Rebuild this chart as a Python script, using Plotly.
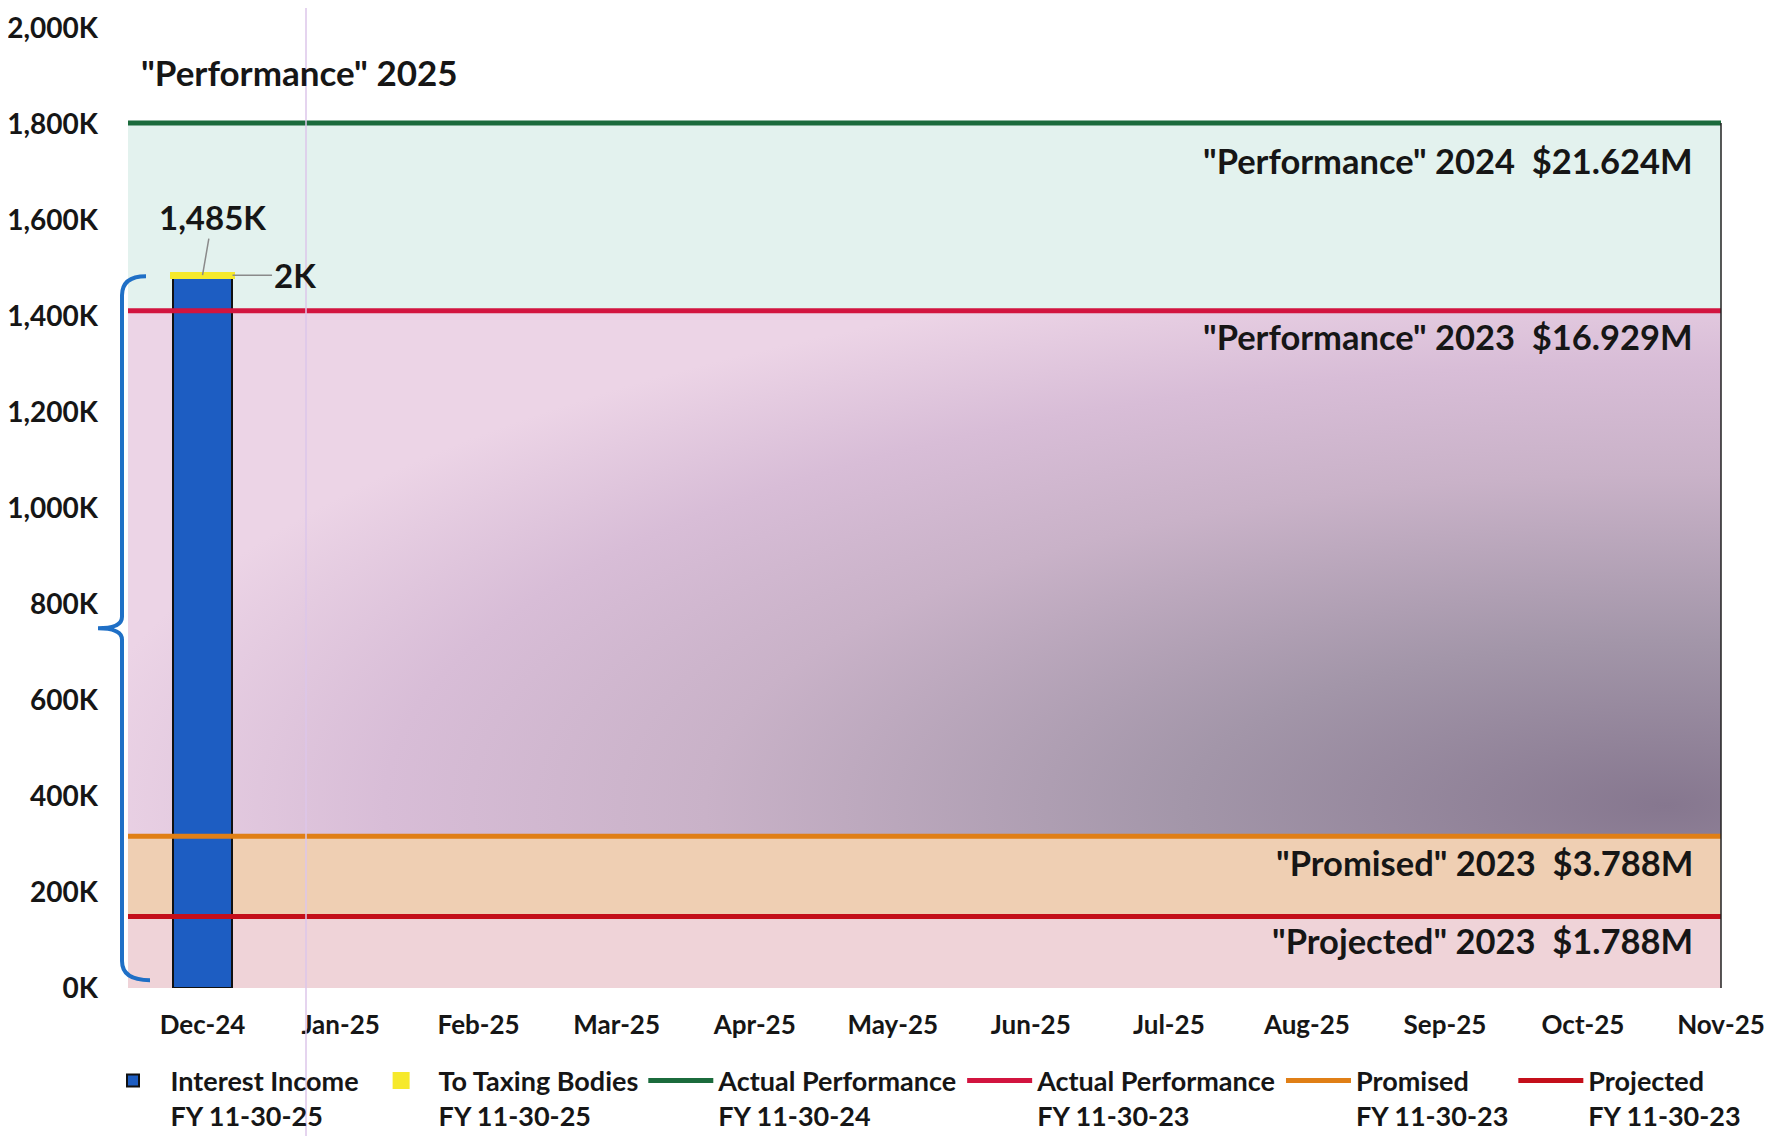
import plotly.graph_objects as go

# ---------------- data ----------------
MONTHS = ["Dec-24", "Jan-25", "Feb-25", "Mar-25", "Apr-25", "May-25",
          "Jun-25", "Jul-25", "Aug-25", "Sep-25", "Oct-25", "Nov-25"]
INTEREST_INCOME_K = [1483, None, None, None, None, None,
                     None, None, None, None, None, None]
TO_TAXING_K = [2, None, None, None, None, None,
               None, None, None, None, None, None]
TOTAL_LABEL = "1,485K"
TAXING_LABEL = "2K"

# monthly reference levels (K): annual total / 12
ACTUAL_PERF_2024_K = 1802     # $21.624M
ACTUAL_PERF_2023_K = 1411     # $16.929M
PROMISED_2023_K = 316         # $3.788M
PROJECTED_2023_K = 149        # $1.788M

Y_TICKS = [0, 200, 400, 600, 800, 1000, 1200, 1400, 1600, 1800, 2000]
Y_TICK_TEXT = ["0K", "200K", "400K", "600K", "800K", "1,000K", "1,200K",
               "1,400K", "1,600K", "1,800K", "2,000K"]

BAND_LABELS = ['"Performance" 2024  $21.624M', '"Performance" 2023  $16.929M',
               '"Promised" 2023  $3.788M', '"Projected" 2023  $1.788M']
TITLE = '"Performance" 2025'
LEGEND_NAMES = ["Interest Income<br>FY 11-30-25", "To Taxing Bodies<br>FY 11-30-25",
                "Actual Performance<br>FY 11-30-24", "Actual Performance<br>FY 11-30-23",
                "Promised<br>FY 11-30-23", "Projected<br>FY 11-30-23"]

# ---------------- layout constants ----------------
# the page body adds an 8px margin, so the figure is 8px smaller than the window
W, H = 1767, 1128
ML, MR, MT, MB = 120, 54, 20, 148
X_RANGE = [-0.54, 11]
Y_RANGE = [0, 2000]
FONT = "Lato, 'Open Sans', sans-serif"
TXT = "#161616"

C_GREEN = "#1b6b3c"
C_CRIMSON = "#d2143f"
C_ORANGE = "#e07f16"
C_RED = "#c40f1a"
C_BLUE = "#1d5dc2"
C_YELLOW = "#f6e92c"

idx = list(range(len(MONTHS)))
x0, x1 = X_RANGE

fig = go.Figure()


def band(y_lo, y_hi, color):
    fig.add_trace(go.Scatter(
        x=[x0, x1, x1, x0, x0], y=[y_lo, y_lo, y_hi, y_hi, y_lo],
        mode="none", fill="toself", fillcolor=color,
        hoverinfo="skip", showlegend=False, xaxis="x", yaxis="y"))


# shaded gradient between promised and actual-2023 (darker toward bottom right)
cx, cy, rx, ry = 10.6, 380, 11.6, 1150
fig.add_trace(go.Scatter(
    x=[cx - rx, cx + rx, cx + rx, cx - rx, cx - rx],
    y=[cy - ry, cy - ry, cy + ry, cy + ry, cy - ry],
    mode="none", fill="toself",
    fillgradient=dict(type="radial", colorscale=[
        [0.0, "#86778f"], [0.3, "#a396a9"], [0.6, "#c9b2c8"],
        [0.8, "#d8bdd7"], [1.0, "#ecd4e6"]]),
    hoverinfo="skip", showlegend=False, xaxis="x", yaxis="y"))

band(ACTUAL_PERF_2023_K, ACTUAL_PERF_2024_K, "#e3f2ee")
band(PROJECTED_2023_K, PROMISED_2023_K, "#efcfb3")
band(Y_RANGE[0], PROJECTED_2023_K, "#efd3d8")

# bars (overlay subplot so they sit above the shaded bands)
fig.add_trace(go.Bar(
    x=idx, y=INTEREST_INCOME_K, name=LEGEND_NAMES[0], width=0.43,
    marker=dict(color=C_BLUE, line=dict(color="#111111", width=2)),
    xaxis="x2", yaxis="y2"))
fig.add_trace(go.Bar(
    x=idx, y=TO_TAXING_K, name=LEGEND_NAMES[1], width=0.43,
    marker=dict(color=C_YELLOW, line=dict(color=C_YELLOW, width=6)),
    xaxis="x2", yaxis="y2"))

for val, col, nm in [(ACTUAL_PERF_2024_K, C_GREEN, LEGEND_NAMES[2]),
                     (ACTUAL_PERF_2023_K, C_CRIMSON, LEGEND_NAMES[3]),
                     (PROMISED_2023_K, C_ORANGE, LEGEND_NAMES[4]),
                     (PROJECTED_2023_K, C_RED, LEGEND_NAMES[5])]:
    fig.add_trace(go.Scatter(
        x=[x0, x1], y=[val, val], mode="lines", name=nm,
        line=dict(color=col, width=5), xaxis="x2", yaxis="y2"))

plot_w = W - ML - MR
plot_h = H - MT - MB


def px_dom(px):
    return px / plot_w


def y_dom(v):
    return v / Y_RANGE[1]


shapes = []
# right border of the chart area
shapes.append(dict(type="line", xref="x domain", yref="y domain",
                   x0=1, x1=1, y0=0, y1=y_dom(ACTUAL_PERF_2024_K),
                   line=dict(color="#222222", width=1.5), layer="above"))
# curly brace beside the bar
bx = px_dom(-6)
top = y_dom(INTEREST_INCOME_K[0] + TO_TAXING_K[0] - 2)
bot = y_dom(16)
mid = (top + bot) / 2
r = 0.02
path = (f"M {px_dom(18)},{top} Q {bx},{top} {bx},{top - r} "
        f"L {bx},{mid + 0.012} Q {bx},{mid} {px_dom(-30)},{mid} "
        f"Q {bx},{mid} {bx},{mid - 0.012} "
        f"L {bx},{bot + r} Q {bx},{bot} {px_dom(22)},{bot}")
shapes.append(dict(type="path", xref="x domain", yref="y domain", path=path,
                   line=dict(color="#1f6fc6", width=4), layer="above"))
# faint vertical scan line
shapes.append(dict(type="line", xref="paper", yref="paper",
                   x0=px_dom(178), x1=px_dom(178), y0=-MB / plot_h,
                   y1=1 + MT / plot_h,
                   line=dict(color="#dcc6ea", width=1.5), layer="above"))

annotations = []
annotations.append(dict(text=f"<b>{TITLE}</b>", xref="paper", yref="y",
                        x=px_dom(11), y=1909, xanchor="left", yanchor="middle",
                        showarrow=False, font=dict(size=35, color=TXT, family=FONT)))
annotations.append(dict(text=f"<b>{TOTAL_LABEL}</b>", xref="x2", yref="y2",
                        x=0, y=INTEREST_INCOME_K[0] + TO_TAXING_K[0],
                        ax=10, ay=-58, showarrow=True, arrowhead=0,
                        arrowwidth=1.5, arrowcolor="#8a8a8a",
                        font=dict(size=33, color=TXT, family=FONT)))
annotations.append(dict(text=f"<b>{TAXING_LABEL}</b>", xref="x2", yref="y2",
                        x=0, y=INTEREST_INCOME_K[0] + TO_TAXING_K[0],
                        ax=92, ay=0, showarrow=True, arrowhead=0, standoff=30,
                        arrowwidth=1.5, arrowcolor="#8a8a8a",
                        font=dict(size=33, color=TXT, family=FONT)))
for lab, yv in zip(BAND_LABELS, [1724, 1357, 262, 98]):
    annotations.append(dict(text=f"<b>{lab}</b>", xref="paper", yref="y",
                            x=1, y=yv, xanchor="right", yanchor="middle",
                            xshift=-26, showarrow=False,
                            font=dict(size=34.5, color=TXT, family=FONT)))

axis_common = dict(showgrid=False, zeroline=False, showline=False)
fig.update_layout(
    width=W, height=H,
    margin=dict(l=ML, r=MR, t=MT, b=MB, autoexpand=False),
    paper_bgcolor="white", plot_bgcolor="white",
    font=dict(family=FONT, color=TXT),
    barmode="stack",
    xaxis=dict(range=X_RANGE, tickvals=idx, ticktext=MONTHS, ticks="",
               tickfont=dict(size=26, color=TXT, family=FONT, weight=700),
               ticklabelstandoff=19, ticklabeloverflow="allow", **axis_common),
    yaxis=dict(range=Y_RANGE, tickvals=Y_TICKS, ticktext=Y_TICK_TEXT, ticks="",
               tickfont=dict(size=28, color=TXT, family=FONT, weight=700),
               ticklabelstandoff=29, ticklabeloverflow="allow", **axis_common),
    xaxis2=dict(range=X_RANGE, overlaying="x", visible=False, **axis_common),
    yaxis2=dict(range=Y_RANGE, overlaying="y", visible=False, **axis_common),
    legend=dict(orientation="h", x=-0.0204, xanchor="left", y=-0.0713, yanchor="top",
                valign="top", bgcolor="rgba(0,0,0,0)", itemwidth=65,
                font=dict(size=27, color=TXT, family=FONT, weight=700),
                traceorder="normal"),
    shapes=shapes, annotations=annotations,
)

fig.write_html("out.html")
